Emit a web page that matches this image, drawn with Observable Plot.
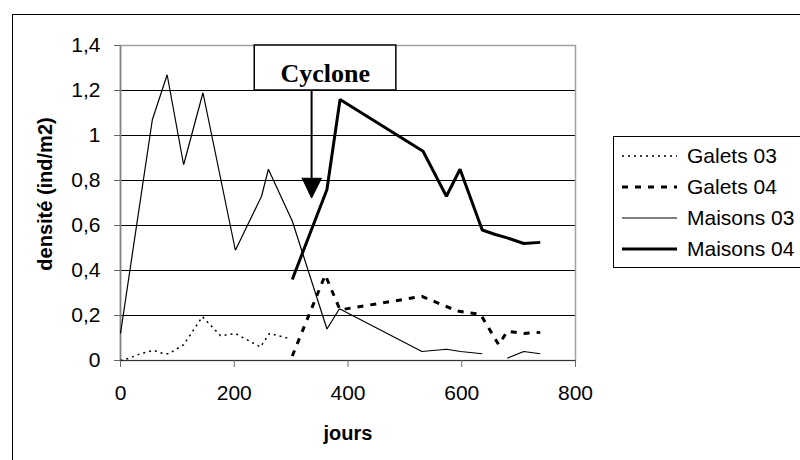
<!DOCTYPE html>
<html><head><meta charset="utf-8">
<script src="https://cdn.jsdelivr.net/npm/d3@7"></script>
<script src="https://cdn.jsdelivr.net/npm/@observablehq/plot@0.6"></script>
<style>
html,body{margin:0;padding:0;background:#fff;overflow:hidden;width:800px;height:460px}
#wrap{position:relative;width:800px;height:460px;overflow:hidden}
#frame{position:absolute;left:12px;top:14px;width:900px;height:600px;border:1px solid #000;box-sizing:border-box}
#chart{position:absolute;left:0;top:0}
#legend{position:absolute;left:0;top:0}
</style></head><body>
<div id="wrap"><div id="frame"></div><div id="chart"></div><svg id="legend" width="800" height="460"></svg></div>
<script>
// ---- data ----
const galets03Jours   = [0, 15, 35, 58, 76, 85, 111, 144, 176, 202, 246, 262, 293];
const galets03Densite = [0, 0.01, 0.03, 0.045, 0.03, 0.03, 0.07, 0.195, 0.11, 0.12, 0.06, 0.12, 0.1];

const galets04Jours   = [302, 360, 386, 530, 592, 633, 665, 680, 709, 738];
const galets04Densite = [0.02, 0.38, 0.225, 0.285, 0.22, 0.205, 0.07, 0.13, 0.12, 0.125];

const maisons03Jours   = [0, 56, 82, 111, 145, 202, 248, 260, 302, 363, 385, 530, 573, 598, 636, 658, 680, 709, 738];
const maisons03Densite = [0.12, 1.07, 1.27, 0.87, 1.19, 0.49, 0.73, 0.85, 0.62, 0.14, 0.23, 0.04, 0.05, 0.04, 0.03, null, 0.01, 0.04, 0.03];

const maisons04Jours   = [302, 363, 386, 532, 573, 597, 636, 659, 680, 709, 738];
const maisons04Densite = [0.36, 0.76, 1.16, 0.93, 0.73, 0.85, 0.58, 0.56, 0.545, 0.52, 0.525];

const seriesNames = ["Galets 03", "Galets 04", "Maisons 03", "Maisons 04"];
const xTicks = [0, 200, 400, 600, 800];
const yTicks = [0, 0.2, 0.4, 0.6, 0.8, 1, 1.2, 1.4];
const xLabel = "jours";
const yLabel = "densité (ind/m2)";

// cyclone annotation
const cycloneText = "Cyclone";
const cycloneBox = [{x1: 236, x2: 485, y1: 1.2, y2: 1.4}];
const cycloneTextPos = [{x: 360, y: 1.274}];
const cycloneShaft = [{x: 336, y1: 1.2, y2: 0.8}];
const cycloneHead = [[319.5, 0.81], [353.4, 0.81], [336, 0.722], [319.5, 0.81]];

const styles = {
  "Galets 03":  {stroke: "#000", strokeWidth: 1.5, strokeDasharray: "2,4"},
  "Galets 04":  {stroke: "#000", strokeWidth: 3, strokeDasharray: "6,7"},
  "Maisons 03": {stroke: "#000", strokeWidth: 1.2},
  "Maisons 04": {stroke: "#000", strokeWidth: 3}
};

const toRows = (xs, ys) => xs.map((x, i) => ({x, y: ys[i]}));
const rows = {
  "Galets 03": toRows(galets03Jours, galets03Densite),
  "Galets 04": toRows(galets04Jours, galets04Densite),
  "Maisons 03": toRows(maisons03Jours, maisons03Densite),
  "Maisons 04": toRows(maisons04Jours, maisons04Densite)
};

const fmt = d => d.toFixed(1).replace(/\.0$/, "").replace(".", ",");

const plot = Plot.plot({
  width: 800, height: 460,
  marginLeft: 120, marginRight: 225, marginTop: 45, marginBottom: 100,
  style: {fontFamily: "'Liberation Sans', Arial, sans-serif", color: "#000", background: "transparent", overflow: "visible"},
  x: {domain: [0, 800]},
  y: {domain: [0, 1.4]},
  marks: [
    Plot.ruleY(yTicks.slice(0, -1), {stroke: "#000", strokeWidth: 1}),
    Plot.frame({stroke: "#a0a0a0", strokeWidth: 1.5}),
    Plot.ruleY([0], {stroke: "#333"}),
    Plot.ruleX([0], {stroke: "#808080", strokeWidth: 1.5}),
    ...seriesNames.map(n => Plot.line(rows[n], {x: "x", y: "y", ...styles[n], strokeLinejoin: "miter", strokeLinecap: "butt"})),
    Plot.rect(cycloneBox, {x1: "x1", x2: "x2", y1: "y1", y2: "y2", fill: "white", stroke: "#000", strokeWidth: 1.5}),
    Plot.text(cycloneTextPos, {x: "x", y: "y", text: () => cycloneText, fontFamily: "'Liberation Serif', 'Times New Roman', serif", fontWeight: "bold", fontSize: 26, fill: "#000"}),
    Plot.ruleX(cycloneShaft, {x: "x", y1: "y1", y2: "y2", stroke: "#000", strokeWidth: 2}),
    Plot.line(cycloneHead, {x: d => d[0], y: d => d[1], fill: "#000", stroke: "#000", strokeWidth: 1}),
    Plot.axisX(xTicks, {tickSize: 7, tickPadding: 18, fontSize: 21, stroke: "#666", label: null}),
    Plot.axisY(yTicks, {tickSize: 6, tickPadding: 14, fontSize: 21, stroke: "#666", tickFormat: fmt, label: null}),
    Plot.text([yLabel], {frameAnchor: "left", rotate: -90, dx: -75, dy: -9, fontWeight: "bold", fontSize: 20, fill: "#000", textAnchor: "middle", lineAnchor: "middle"}),
    Plot.text([xLabel], {frameAnchor: "bottom", dy: 73, fontWeight: "bold", fontSize: 20, fill: "#000", textAnchor: "middle", lineAnchor: "middle"})
  ]
});
document.getElementById("chart").appendChild(plot);

// legend
const lg = d3.select("#legend");
lg.append("rect").attr("x", 613.5).attr("y", 136.5).attr("width", 220).attr("height", 131)
  .attr("fill", "#fff").attr("stroke", "#000").attr("stroke-width", 1);
const rowY = [156, 187, 218, 249];
seriesNames.forEach((n, i) => {
  const s = styles[n];
  lg.append("line").attr("x1", 622).attr("x2", 677).attr("y1", rowY[i]).attr("y2", rowY[i])
    .attr("stroke", s.stroke).attr("stroke-width", s.strokeWidth)
    .attr("stroke-dasharray", s.strokeDasharray || null);
  lg.append("text").attr("x", 687).attr("y", rowY[i]).attr("dy", "0.35em")
    .attr("font-family", "'Liberation Sans', Arial, sans-serif").attr("font-size", 21)
    .attr("fill", "#000").text(n);
});
</script></body></html>
